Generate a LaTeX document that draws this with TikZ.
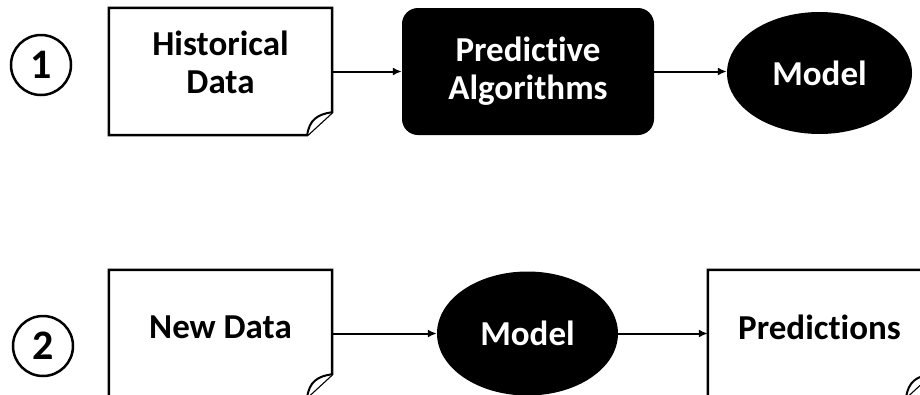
\documentclass[tikz,border=0pt]{standalone}
\usepackage{fontspec}
\setmainfont{Carlito}[Ligatures={NoCommon}]
\usetikzlibrary{arrows.meta,shapes.geometric}
\newcommand\mydocout[1]{%
  \draw[docline] (#1.north west) -- (#1.north east) -- ([yshift=23pt]#1.south east)
    -- ([xshift=-25pt]#1.south east) -- (#1.south west) -- cycle;
  \draw[line width=2pt,fill=white] ([xshift=-25pt]#1.south east)
    .. controls +(2pt,15pt) and +(-15pt,-2pt) .. ([yshift=23pt]#1.south east);
}
\begin{document}
\begin{tikzpicture}[x=1pt,y=-1pt,
  docbox/.style={minimum width=223pt,minimum height=127pt,inner sep=0pt},
  docline/.style={line width=2.5pt,line join=miter},
  lbl/.style={font=\fontsize{35}{38}\selectfont\bfseries,align=center,inner sep=0pt},
  darkbox/.style={fill=black,rounded corners=16pt,minimum width=252pt,minimum height=127pt,
    inner sep=0pt,text=white,font=\fontsize{35}{38}\selectfont\bfseries,align=center},
  darkell/.style={ellipse,fill=black,inner sep=0pt,text=white,
    font=\fontsize{35}{38}\selectfont\bfseries},
  numcirc/.style={circle,draw,line width=2.5pt,minimum size=60pt,inner sep=0pt,
    font=\fontsize{42}{42}\selectfont\bfseries},
  conn/.style={line width=2pt,-{Latex[length=9pt,width=8pt]}}]
\useasboundingbox (0,0) rectangle (920,394);
\clip (0,0) rectangle (920,394);
% row 1
\node[numcirc] (c1) at (41,65) {1};
\node[docbox] (hd) at (220.5,71.5) {};
\mydocout{hd}
\node[lbl] (hdt) at ([yshift=9pt]hd.center) {Historical\\Data};
\node[darkbox] (pa) at (528,71.5) {Predictive\\Algorithms};
\node[darkell,minimum width=185pt,minimum height=122pt] (m1) at (819.5,73) {Model};
\draw[conn] (hd.east) -- (pa.west);
\draw[conn] (pa.east) -- (pa.east -| m1.west);
% row 2
\node[numcirc] (c2) at (43,346) {2};
\node[docbox] (nd) at (220.5,333.5) {};
\mydocout{nd}
\node[lbl] (ndt) at ([yshift=6pt]nd.center) {New Data};
\node[darkell,minimum width=181pt,minimum height=124pt] (m2) at (527.5,333.5) {Model};
\node[docbox] (pr) at (819.5,333.5) {};
\mydocout{pr}
\node[lbl] (prt) at ([yshift=6pt]pr.center) {Predictions};
\draw[conn] (nd.east) -- (m2.west);
\draw[conn] (m2.east) -- (pr.west);
\end{tikzpicture}
\end{document}
